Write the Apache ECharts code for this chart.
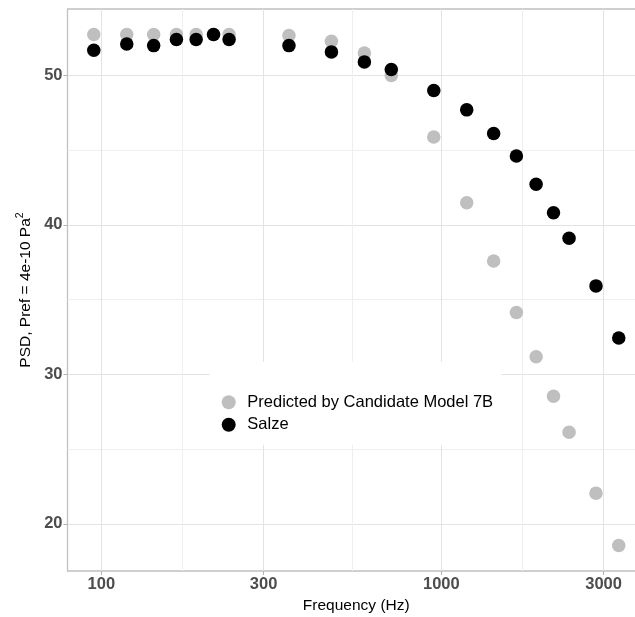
<!DOCTYPE html>
<html><head><meta charset="utf-8">
<script src="https://cdn.jsdelivr.net/npm/echarts@6/dist/echarts.min.js"></script>
<style>html,body{margin:0;padding:0;background:#fff}#c{width:635px;height:617px}</style>
</head><body><div id="c"></div>
<script>
const frequencies = [95, 118.75, 142.5, 166.25, 190, 213.75, 237.5, 356.25, 475, 593.75, 712.5, 950, 1187.5, 1425, 1662.5, 1900, 2137.5, 2375, 2850, 3325];
const predicted = [52.74, 52.74, 52.74, 52.74, 52.74, 52.74, 52.74, 52.67, 52.29, 51.51, 50.0, 45.88, 41.49, 37.59, 34.14, 31.18, 28.53, 26.12, 22.05, 18.55];
const salze = [51.69, 52.11, 52.0, 52.41, 52.41, 52.74, 52.41, 52.0, 51.58, 50.91, 50.40, 49.0, 47.70, 46.12, 44.61, 42.72, 40.82, 39.11, 35.92, 32.43];
const seriesNames = ['Predicted by Candidate Model 7B', 'Salze'];
const xMajorTicks = [100, 300, 1000, 3000];
const xMinorTicks = [173.2, 547.7, 1732];
const yMajorTicks = [20, 30, 40, 50];
const yMinorTicks = [25, 35, 45];
const xMin = 79.5, xMax = 3972;
const yMin = 16.84, yMax = 54.45;

const chart = echarts.init(document.getElementById('c'), null, {renderer: 'canvas'});
const font = 'Liberation Sans, Arial, sans-serif';
const majorLine = {color: '#e3e3e3', width: 1};
const minorLine = {color: '#efefef', width: 1};
const tickStyle = {color: '#b3b3b3', width: 1};
const labelStyle = {fontFamily: font, fontSize: 16.5, fontWeight: 'bold', color: '#4d4d4d'};
const plain = v => String(Math.round(v));

chart.setOption({
  animation: false,
  backgroundColor: '#fff',
  grid: {left: 67.5, top: 9, width: 577.5, height: 562, outerBoundsMode: 'none', containLabel: false,
         show: true, borderColor: '#c0c0c0', borderWidth: 1.3, backgroundColor: 'transparent'},
  legend: {
    data: seriesNames, orient: 'vertical', left: 209.5, top: 361.7,
    padding: [32, 8.5, 11.5, 12.2], itemGap: 5.5, itemWidth: 14, itemHeight: 14,
    icon: 'circle', backgroundColor: '#fff',
    textStyle: {fontFamily: font, fontSize: 16.5, color: '#000', lineHeight: 16, padding: [0, 0, 0, 6.6]}
  },
  xAxis: [
    {type: 'log', logBase: 10, min: xMin, max: xMax,
     axisLine: {show: false},
     axisTick: {show: true, length: 4, lineStyle: tickStyle, customValues: xMajorTicks},
     axisLabel: Object.assign({customValues: xMajorTicks, margin: 4.5, formatter: plain}, labelStyle),
     splitLine: {show: true, lineStyle: majorLine, customValues: xMajorTicks},
     minorSplitLine: {show: false},
     name: 'Frequency (Hz)', nameLocation: 'middle', nameGap: 26,
     nameTextStyle: {fontFamily: font, fontSize: 15.5, color: '#000'}},
    {type: 'log', logBase: 10, min: xMin, max: xMax, position: 'bottom',
     axisLine: {show: false},
     axisTick: {show: false, customValues: xMinorTicks},
     axisLabel: {show: false, customValues: xMinorTicks},
     splitLine: {show: true, lineStyle: minorLine, customValues: xMinorTicks}}
  ],
  yAxis: [
    {type: 'value', min: yMin, max: yMax,
     axisLine: {show: false},
     axisTick: {show: true, length: 4, lineStyle: tickStyle, customValues: yMajorTicks},
     axisLabel: Object.assign({customValues: yMajorTicks, margin: 5, formatter: plain}, labelStyle),
     splitLine: {show: true, lineStyle: majorLine, customValues: yMajorTicks},
     name: '{a|PSD, Pref = 4e-10 Pa}{s|2}', nameLocation: 'middle', nameGap: 23,
     nameTextStyle: {rich: {
       a: {fontFamily: font, fontSize: 15.5, color: '#000', lineHeight: 22},
       s: {fontFamily: font, fontSize: 10.5, color: '#000', verticalAlign: 'top', lineHeight: 12}
     }}},
    {type: 'value', min: yMin, max: yMax,
     axisLine: {show: false},
     axisTick: {show: false, customValues: yMinorTicks},
     axisLabel: {show: false, customValues: yMinorTicks},
     splitLine: {show: true, lineStyle: minorLine, customValues: yMinorTicks}}
  ],
  series: [
    {name: seriesNames[0], type: 'scatter', symbol: 'circle', symbolSize: 13.5,
     itemStyle: {color: '#bfbfbf', opacity: 1},
     data: frequencies.map((f, i) => [f, predicted[i]])},
    {name: seriesNames[1], type: 'scatter', symbol: 'circle', symbolSize: 13.5,
     itemStyle: {color: '#000', opacity: 1},
     data: frequencies.map((f, i) => [f, salze[i]])}
  ]
});
</script></body></html>
